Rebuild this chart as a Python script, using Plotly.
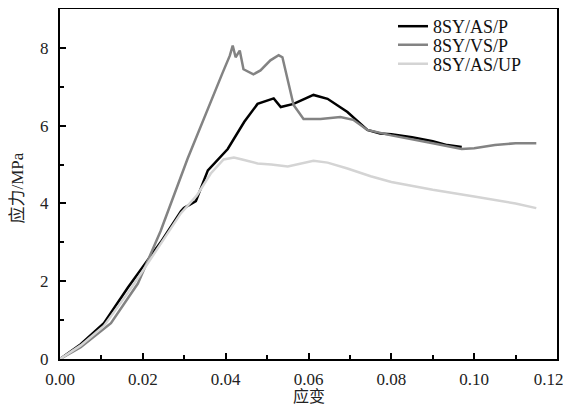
import plotly.graph_objects as go

# 8SY/AS/P
as_p_x = [0, 0.005, 0.0106, 0.0164, 0.0202, 0.0243, 0.0292, 0.0299, 0.0328, 0.0357, 0.0405, 0.0441, 0.0445,
          0.0477, 0.0495, 0.0516, 0.0533, 0.0564, 0.0612, 0.0646, 0.0694, 0.0742, 0.0773, 0.08, 0.085, 0.09,
          0.0935, 0.097]
as_p_y = [0, 0.38, 0.92, 1.84, 2.4, 3.0, 3.8, 3.88, 4.06, 4.85, 5.4, 6.05, 6.1,
          6.56, 6.62, 6.7, 6.48, 6.56, 6.79, 6.69, 6.35, 5.89, 5.8, 5.78, 5.7, 5.6,
          5.5, 5.45]

# 8SY/VS/P
vs_p_x = [0, 0.005, 0.0123, 0.0188, 0.0243, 0.0292, 0.0308, 0.0393, 0.0410, 0.0417, 0.0424, 0.0434, 0.0443,
          0.0467, 0.0484, 0.0508, 0.0528, 0.0537, 0.0549, 0.0564, 0.0588, 0.0629, 0.0677, 0.0708, 0.0742,
          0.08, 0.09, 0.097, 0.10, 0.105, 0.11, 0.115]
vs_p_y = [0, 0.3, 0.92, 1.94, 3.29, 4.7, 5.15, 7.37, 7.8, 8.06, 7.76, 7.93, 7.45,
          7.32, 7.42, 7.68, 7.81, 7.76, 7.19, 6.53, 6.17, 6.17, 6.22, 6.15, 5.89,
          5.75, 5.55, 5.4, 5.42, 5.5, 5.55, 5.55]

# 8SY/AS/UP
as_up_x = [0, 0.005, 0.0106, 0.0164, 0.0202, 0.0243, 0.0292, 0.0330, 0.0364, 0.0395, 0.0420, 0.0440,
           0.0477, 0.0510, 0.055, 0.0612, 0.0646, 0.0694, 0.075, 0.08, 0.09, 0.10, 0.11, 0.115]
as_up_y = [0, 0.35, 0.85, 1.7, 2.3, 2.95, 3.75, 4.2, 4.77, 5.13, 5.18, 5.13,
           5.03, 5.0, 4.95, 5.1, 5.05, 4.9, 4.7, 4.55, 4.35, 4.18, 4.0, 3.88]

series_names = ["8SY/AS/P", "8SY/VS/P", "8SY/AS/UP"]
series_x = [as_p_x, vs_p_x, as_up_x]
series_y = [as_p_y, vs_p_y, as_up_y]
series_colors = ["#000000", "#838383", "#d4d4d4"]

x_tick_vals = [0.0, 0.02, 0.04, 0.06, 0.08, 0.10, 0.12]
x_tick_text = ["0.00", "0.02", "0.04", "0.06", "0.08", "0.10", "0.12"]
y_tick_vals = [0, 2, 4, 6, 8]

x_title = "应变"
y_title = "应力/MPa"

FONT = "Liberation Serif, Times New Roman, Noto Sans CJK SC, serif"
TXT = "#222222"

# page has an 8px body margin; keep the page height inside the viewport (no scrollbar)
OFF = 8
FIG_W, FIG_H = 571 - OFF, 412 - 2 * OFF
# target plot-area edges in page pixels
plot_l, plot_r, plot_t, plot_b = 60, 557, 8, 359
pw, ph = plot_r - plot_l, plot_b - plot_t

fig = go.Figure()
legend_ids = ["legend", "legend2", "legend3"]
for name, xs, ys, color, lid in zip(series_names, series_x, series_y, series_colors, legend_ids):
    fig.add_trace(go.Scatter(x=xs, y=ys, mode="lines", name=name, legend=lid, showlegend=True,
                             line=dict(color=color, width=2.5)))

axis_common = dict(showline=True, linecolor="black", linewidth=2, mirror=True,
                   ticks="inside", ticklen=6, tickwidth=1.5, tickcolor="black",
                   showgrid=False, zeroline=False, automargin=False,
                   tickfont=dict(family=FONT, size=17, color=TXT))

# last label sits at the page edge: pad it with trailing non-breaking spaces so the
# visible digits move left and stay inside the page
x_labels = x_tick_text[:-1] + [x_tick_text[-1] + "\u00a0" * 4]

fig.update_xaxes(range=[0, 0.12], tickmode="array", tickvals=x_tick_vals, ticktext=x_labels,
                 ticklabelstandoff=4, ticklabeloverflow="allow",
                 minor=dict(dtick=0.01, tick0=0, ticks="inside", ticklen=4, tickcolor="black"),
                 **axis_common)
fig.update_yaxes(range=[0, 9], tickmode="array", tickvals=y_tick_vals, ticklabelstandoff=6,
                 minor=dict(dtick=1, tick0=0, ticks="inside", ticklen=4, tickcolor="black"),
                 **axis_common)

# axis titles placed as annotations in paper coordinates
fig.add_annotation(text=x_title, xref="paper", yref="paper",
                   x=(309 - plot_l) / pw, y=(plot_b - 396) / ph,
                   xanchor="center", yanchor="middle", showarrow=False,
                   font=dict(family=FONT, size=16, color=TXT))
fig.add_annotation(text=y_title, xref="paper", yref="paper",
                   x=(17 - plot_l) / pw, y=(plot_b - 188) / ph, textangle=-90,
                   xanchor="center", yanchor="middle", showarrow=False,
                   font=dict(family=FONT, size=17, color=TXT))

legend_rows = [26, 45, 64]
leg_layout = {}
for lid, yc in zip(legend_ids, legend_rows):
    leg_layout[lid] = dict(x=(393 - plot_l) / pw, y=(plot_b - yc) / ph,
                           xanchor="left", yanchor="middle",
                           bgcolor="rgba(0,0,0,0)", borderwidth=0,
                           font=dict(family=FONT, size=18, color="#111111"))

fig.update_layout(
    width=FIG_W, height=FIG_H,
    margin=dict(l=plot_l - OFF, r=OFF + FIG_W - plot_r, t=plot_t - OFF, b=OFF + FIG_H - plot_b, pad=0),
    plot_bgcolor="white", paper_bgcolor="white",
    font=dict(family=FONT, color=TXT),
    showlegend=True,
    **leg_layout,
)

fig.write_html("out.html")
